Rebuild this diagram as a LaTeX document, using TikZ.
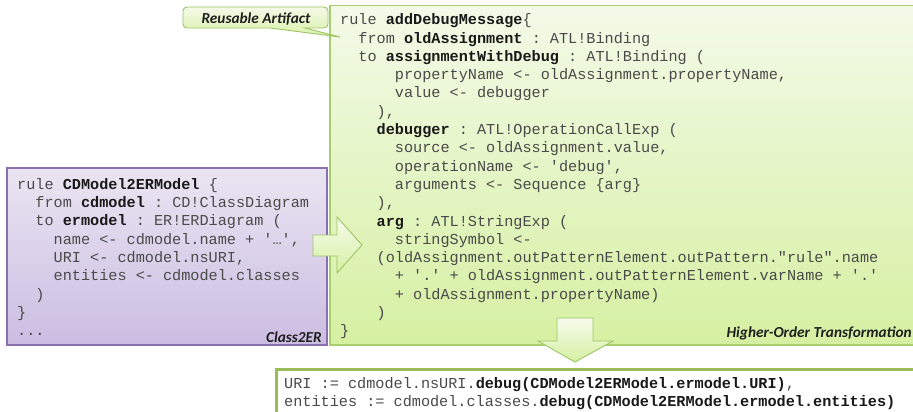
\documentclass[tikz,border=0pt]{standalone}
\usepackage{fontspec}
\setmonofont{Liberation Mono}
\newfontfamily\lblfont{Carlito}
\definecolor{codegray}{HTML}{4A4A4A}
\definecolor{grtop}{HTML}{F3FAE8}
\definecolor{grbot}{HTML}{D6F0A2}
\definecolor{grline}{HTML}{A8CD6E}
\definecolor{putop}{HTML}{EAE5F2}
\definecolor{pubot}{HTML}{CBBDE2}
\definecolor{puline}{HTML}{8A70AE}
\definecolor{arline}{HTML}{9EC463}
\definecolor{olive}{HTML}{9BBB59}
\newdimen\cwd \cwd=9.12pt
\newcommand\ind[1]{\hspace*{#1\cwd}}
\newcommand\kw[1]{\textbf{\color{black!90}#1}}
\newcommand\topstrut{\rule{0pt}{13pt}}
\tikzset{
  code/.style={anchor=north west, inner sep=0pt, align=left,
    font=\ttfamily\fontsize{15.2}{18.3}\selectfont, text=codegray},
  lbl/.style={inner sep=0pt, font=\lblfont\bfseries\itshape\fontsize{15.3}{18}\selectfont, text=black!88},
  greenbox/.style={top color=grtop, bottom color=grbot, draw=grline, line width=1.1pt},
  purplebox/.style={top color=putop, bottom color=pubot, draw=puline, line width=1.4pt},
  blockarrow/.style={top color=grtop!80!white, bottom color=grbot, draw=arline, line width=0.9pt, line join=miter},
  calloutbox/.style={top color=grtop, bottom color=grbot!90!grtop, draw=arline, line width=0.9pt},
  resultbox/.style={fill=white, draw=olive, line width=3pt}
}
\begin{document}
\begin{tikzpicture}[x=1pt,y=-1pt]
\useasboundingbox (0,0) rectangle (913,412);
\clip (0,0) rectangle (913,412);
\fill[white] (0,0) rectangle (913,412);

% boxes
\path[purplebox] (7,168) rectangle (327,345);
\path[greenbox] (330,5.5) rectangle (925,345);

% right block arrow
\path[blockarrow] (313,235) -- (337,235) -- (337,217) -- (362,245) -- (337,273) -- (337,256) -- (313,256) -- cycle;

% callout
\path[calloutbox] (183,17) [rounded corners=4pt] -- (183,7) -- (328,7) -- (328,28) [sharp corners] -- (305,28) -- (340,37) -- (270,28) [rounded corners=4pt] -- (183,28) -- cycle;
\node[lbl, anchor=base] (ra) at (256,23.5) {Reusable Artifact};

% higher-order transformation code
\node[code] (hot) at (340,11.5) {\topstrut rule \kw{addDebugMessage}\{\\
\ind{2}from \kw{oldAssignment} : ATL!Binding\\
\ind{2}to \kw{assignmentWithDebug} : ATL!Binding (\\
\ind{6}propertyName <- oldAssignment.propertyName,\\
\ind{6}value <- debugger\\
\ind{4}),\\
\ind{4}\kw{debugger} : ATL!OperationCallExp (\\
\ind{6}source <- oldAssignment.value,\\
\ind{6}operationName <- 'debug',\\
\ind{6}arguments <- Sequence \{arg\}\\
\ind{4}),\\
\ind{4}\kw{arg} : ATL!StringExp (\\
\ind{6}stringSymbol <-\\
\ind{4}(oldAssignment.outPatternElement.outPattern."rule".name\\
\ind{6}+ '.' + oldAssignment.outPatternElement.varName + '.'\\
\ind{6}+ oldAssignment.propertyName)\\
\ind{4})\\
\}};
\node[lbl, anchor=base east] (hotlbl) at (912,337) {Higher-Order Transformation};

% class2er code
\node[code] (c2e) at (17,176) {\topstrut rule \kw{CDModel2ERModel} \{\\
\ind{2}from \kw{cdmodel} : CD!ClassDiagram\\
\ind{2}to \kw{ermodel} : ER!ERDiagram (\\
\ind{4}name <- cdmodel.name + '…',\\
\ind{4}URI <- cdmodel.nsURI,\\
\ind{4}entities <- cdmodel.classes\\
\ind{2})\\
\}\\
...};
\node[lbl, anchor=base east] (c2elbl) at (322,342) {Class2ER};

% down block arrow
\path[blockarrow] (557,318) -- (593,318) -- (593,341) -- (613,341) -- (575,362) -- (538,341) -- (557,341) -- cycle;

% result box
\path[resultbox] (276,369) rectangle (930,425);
\node[code] (res) at (284,375) {\topstrut URI := cdmodel.nsURI.\kw{debug(CDModel2ERModel.ermodel.URI)},\\
entities := cdmodel.classes.\kw{debug(CDModel2ERModel.ermodel.entities)}};
\end{tikzpicture}
\end{document}
